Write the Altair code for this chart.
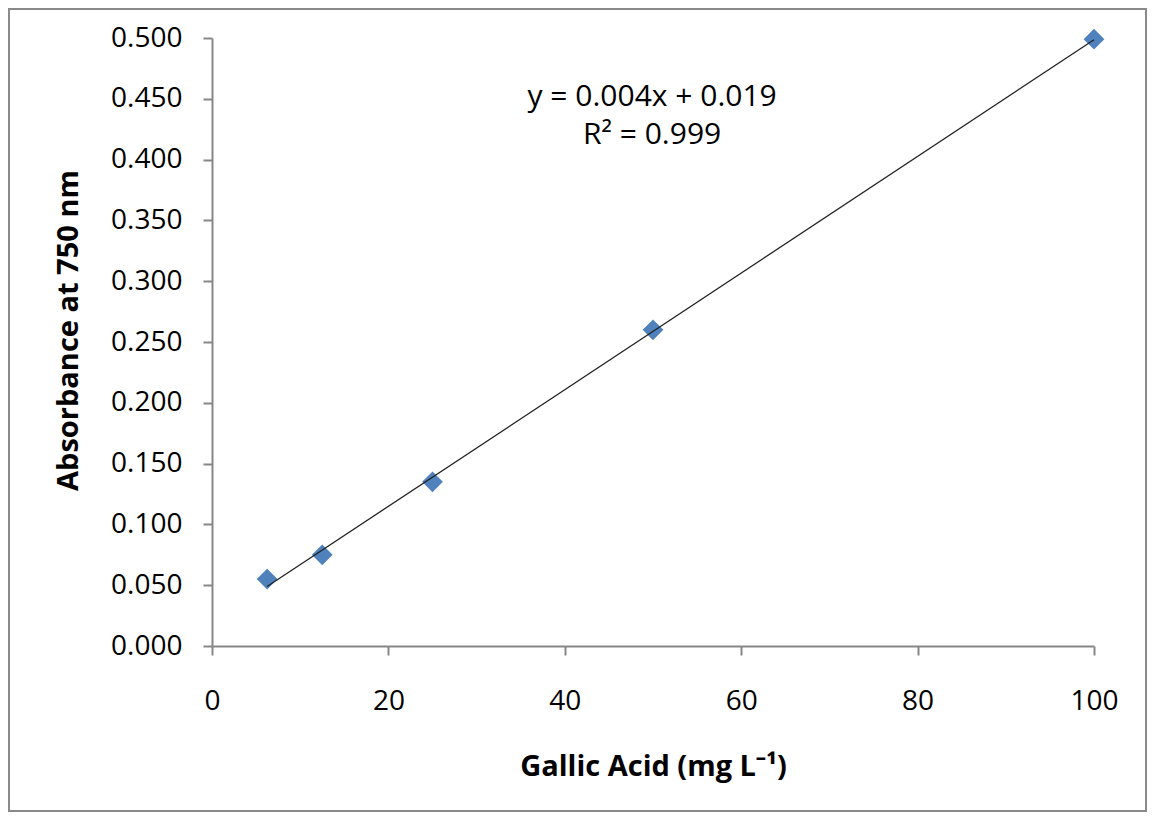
import altair as alt
import pandas as pd

# Data
concentration = [6.25, 12.5, 25, 50, 100]
absorbance = [0.055, 0.075, 0.135, 0.260, 0.499]

x_ticks = [0, 20, 40, 60, 80, 100]
y_ticks = [0.0, 0.05, 0.10, 0.15, 0.20, 0.25, 0.30, 0.35, 0.40, 0.45, 0.50]

eq_text = ["y = 0.004x + 0.019", "R² = 0.999"]
eq_x = [49.9, 49.9]
eq_y = [0.4515, 0.420]

FONT = "Open Sans"
AXIS_GRAY = "#878787"

df = pd.DataFrame({"conc": concentration, "abs": absorbance})
eq_df = pd.DataFrame({"text": eq_text, "x": eq_x, "y": eq_y})

W, H = 882, 608

x_scale = alt.Scale(domain=[0, 100], nice=False)
y_scale = alt.Scale(domain=[0, 0.5], nice=False)

x_axis = alt.Axis(
    values=x_ticks, format="d", title="Gallic Acid (mg L⁻¹)",
    grid=False, tickSize=9, labelPadding=32, labelFlush=False,
    titleX=W / 2, titleY=129, titleBaseline="alphabetic",
)
y_axis = alt.Axis(
    values=y_ticks, format=".3f", title="Absorbance at 750 nm",
    grid=False, tickSize=9, labelPadding=21,
    titleX=-135, titleY=292, titleBaseline="alphabetic",
)

frame = alt.Chart(alt.Data(values=[{"a": 1}])).mark_rect(
    fill=None, stroke="#8a8a8a", strokeWidth=2
).encode(
    x=alt.value(-203), x2=alt.value(934), y=alt.value(-29), y2=alt.value(773)
)

points = alt.Chart(df).mark_point(
    shape="diamond", filled=True, size=430, color="#4f81bd", opacity=1
).encode(
    x=alt.X("conc:Q", scale=x_scale, axis=x_axis),
    y=alt.Y("abs:Q", scale=y_scale, axis=y_axis),
)

trend = alt.Chart(df).transform_regression(
    "conc", "abs", method="linear"
).mark_line(color="#222222", strokeWidth=1.3).encode(
    x=alt.X("conc:Q", scale=x_scale),
    y=alt.Y("abs:Q", scale=y_scale),
)

eq = alt.Chart(eq_df).mark_text(
    font=FONT, fontSize=30, color="#000000", align="center", baseline="middle"
).encode(
    x=alt.X("x:Q", scale=x_scale),
    y=alt.Y("y:Q", scale=y_scale),
    text="text:N",
)

chart = alt.layer(frame, points, trend, eq).properties(
    width=W, height=H,
    autosize=alt.AutoSizeParams(type="none"),
    padding={"left": 204, "top": 30, "right": 53, "bottom": 166},
    background="white",
).configure_view(strokeWidth=0).configure_axis(
    labelFont=FONT, labelFontSize=28, labelColor="#000000",
    titleFont=FONT, titleFontSize=29, titleFontWeight="bold", titleColor="#000000",
    domainColor=AXIS_GRAY, tickColor=AXIS_GRAY, domainWidth=2, tickWidth=2,
)

chart.save("out.html", embed_options={"renderer": "svg", "actions": False})
